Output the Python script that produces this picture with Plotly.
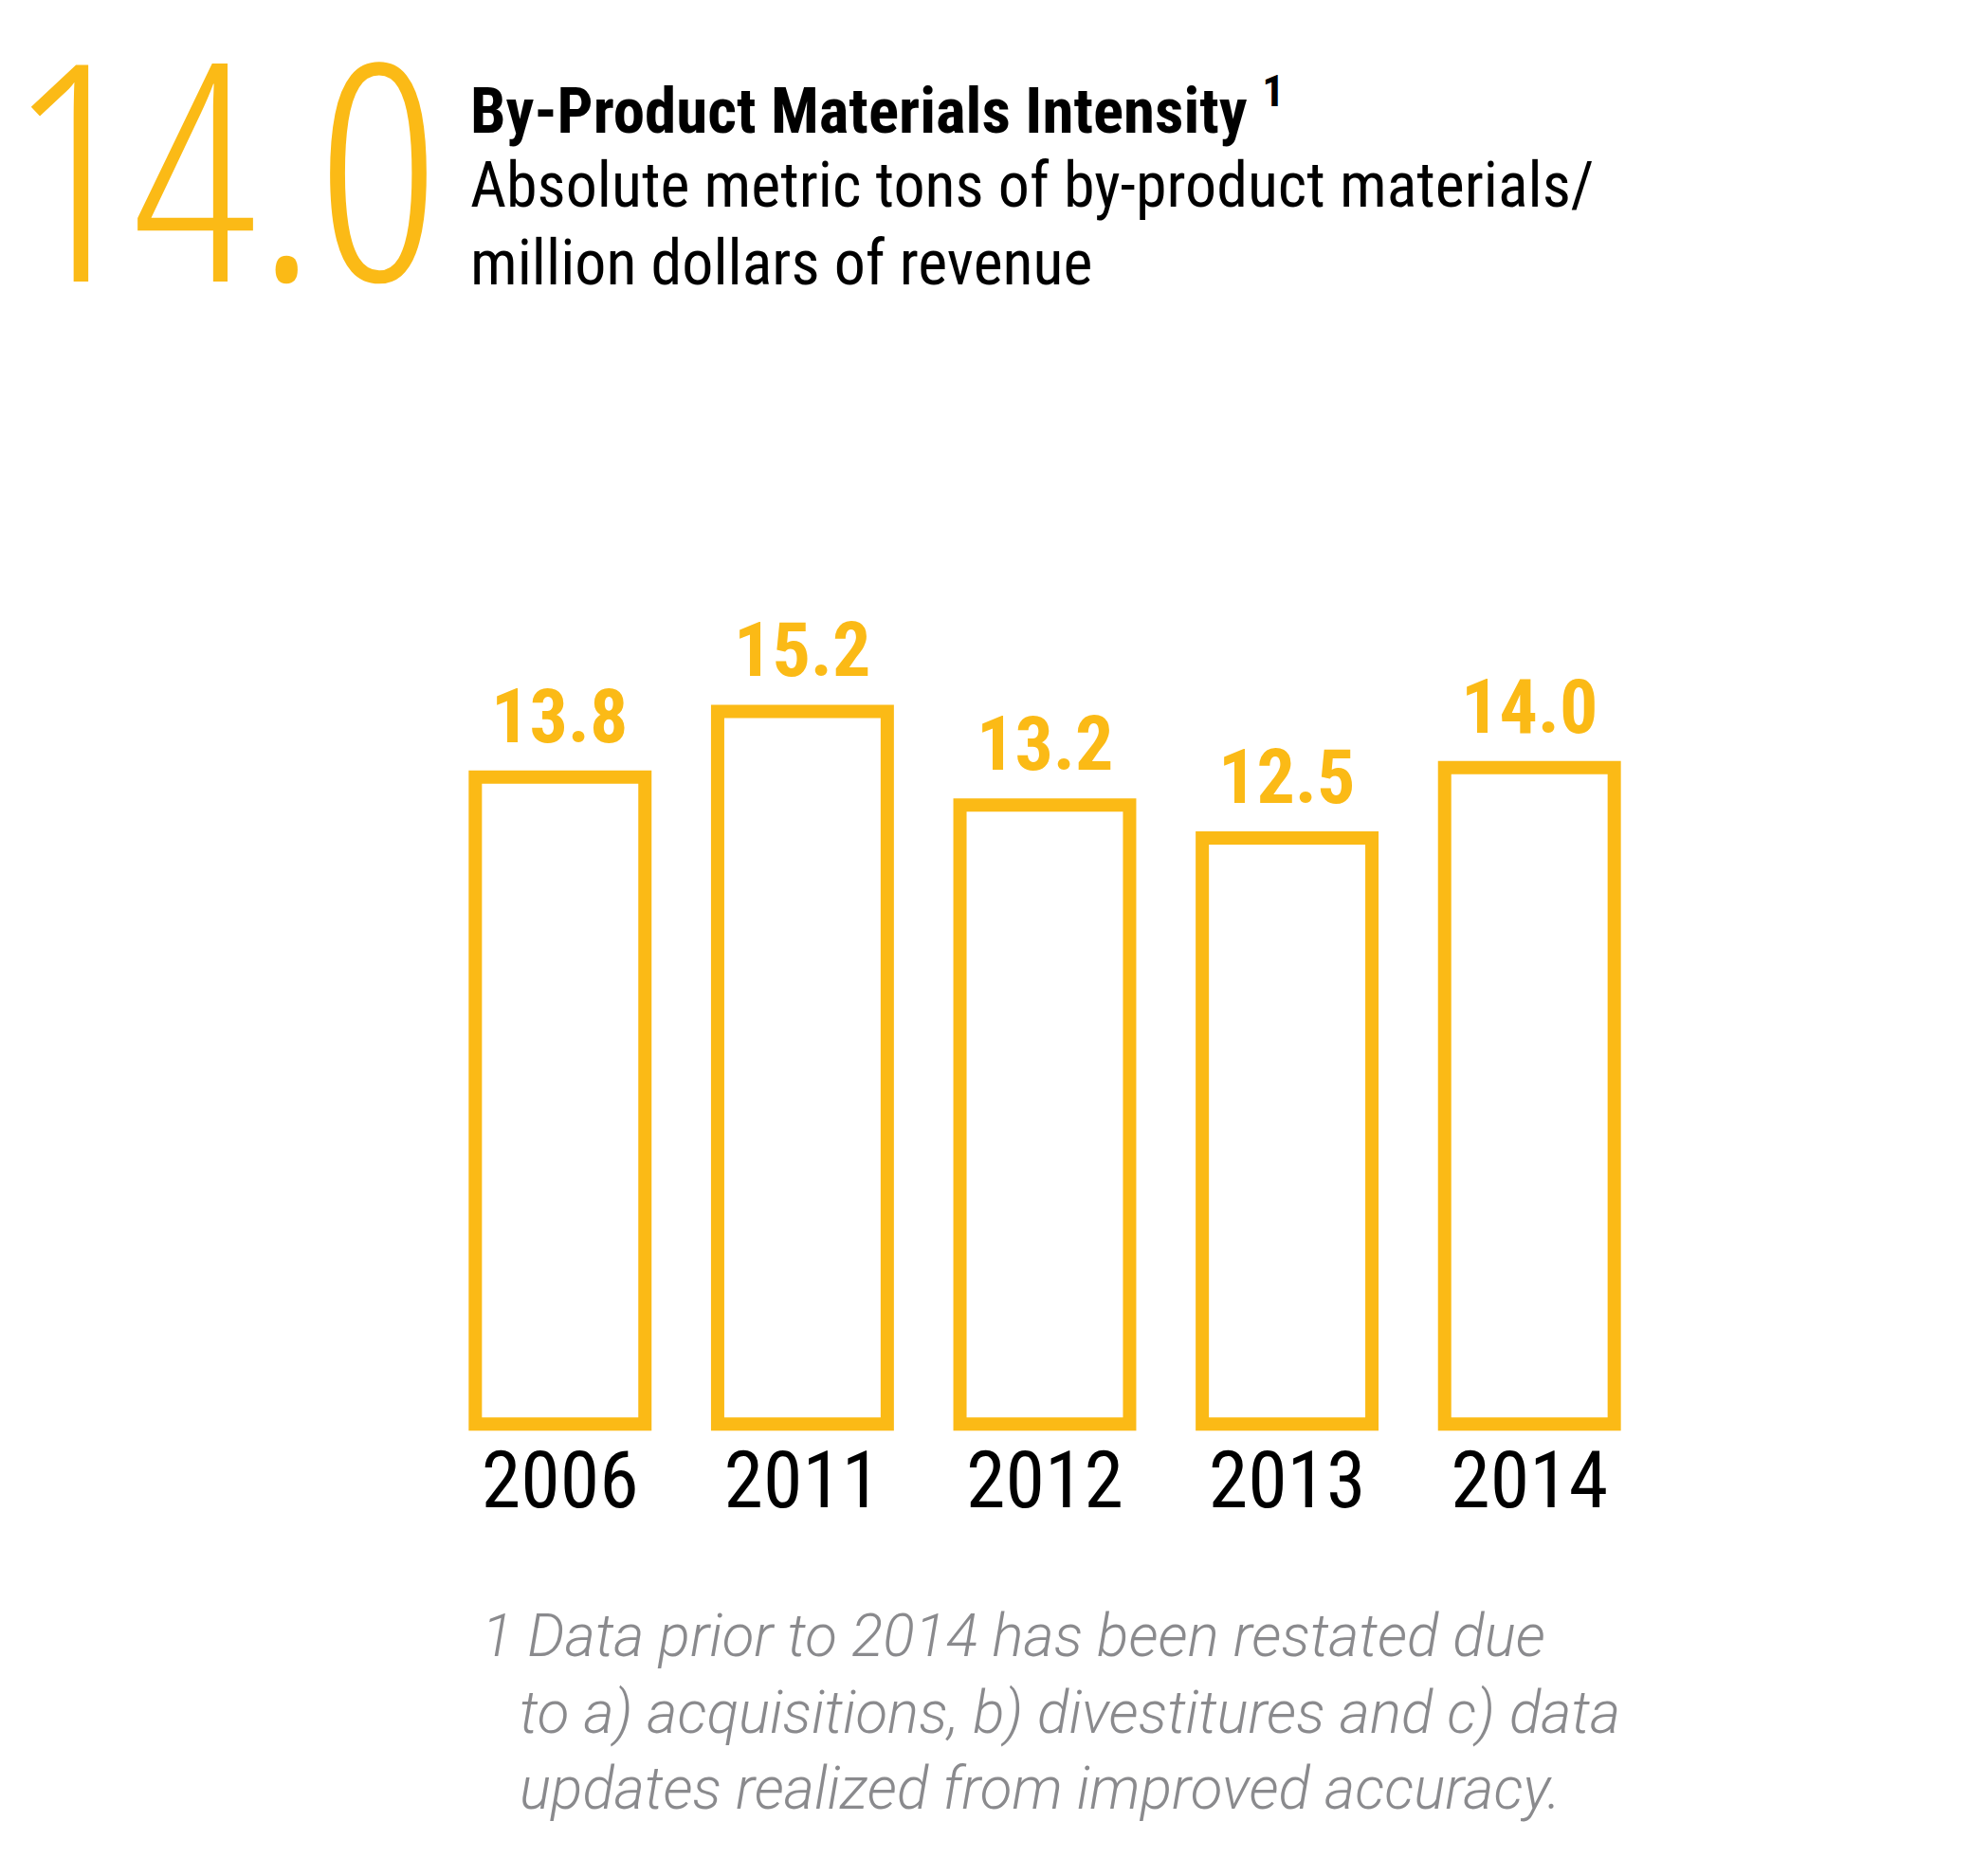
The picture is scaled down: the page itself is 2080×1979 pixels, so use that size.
import plotly.graph_objects as go

years = ["2006", "2011", "2012", "2013", "2014"]
intensity = [13.8, 15.2, 13.2, 12.5, 14.0]
value_labels = ["13.8", "15.2", "13.2", "12.5", "14.0"]
headline = "14.0"
title = "By-Product Materials Intensity"
title_note = "1"
subtitle_lines = ["Absolute metric tons of by-product materials/",
                  "million dollars of revenue"]
footnote_lines = ["1 Data prior to 2014 has been restated due",
                  "to a) acquisitions, b) divestitures and c) data",
                  "updates realized from improved accuracy."]

W, H = 2080, 1979
L, R, T, B = 455, 1733, 505, 1509
YEL = "#FBBA16"
GRAY = "#8A8A8D"
FONT = "Roboto Condensed, Roboto, sans-serif"
NOTE_FONT = "Roboto, sans-serif"
BIG_FONT = "Open Sans, Roboto Condensed, sans-serif"


def px(x):
    return (x - L) / (R - L)


def py(y):
    return (B - y) / (B - T)


fig = go.Figure(go.Bar(
    x=years, y=intensity,
    marker=dict(color="rgba(0,0,0,0)", line=dict(color=YEL, width=14)),
    hoverinfo="skip",
))

ann = []
for i, (v, lab) in enumerate(zip(intensity, value_labels)):
    ann.append(dict(x=i, y=v, xref="x", yref="y", text=lab, showarrow=False,
                    yanchor="bottom", xanchor="center", yshift=15,
                    font=dict(family=FONT, size=80, color=YEL, weight="bold")))


def text_at(x, baseline, txt, size, color="black", weight="normal", style="normal",
            family=FONT, desc=0.244):
    return dict(x=px(x), y=py(baseline + desc * size + 1), xref="paper", yref="paper",
                text=txt, showarrow=False, xanchor="left", yanchor="bottom",
                font=dict(family=family, size=size, color=color, weight=weight, style=style))


ann.append(text_at(0, 304, f"<span style='font-stretch:condensed'>{headline}</span>", 320,
                   color=YEL, weight=300, family=BIG_FONT, desc=0.25))
ann.append(text_at(486, 133, f"{title} <sup>{title_note}</sup>", 67, weight="bold"))
ann.append(text_at(486, 211, subtitle_lines[0], 66))
ann.append(text_at(486, 293, subtitle_lines[1], 66))
ann.append(text_at(498, 1740, footnote_lines[0], 62, color=GRAY, style="italic",
                   weight=300, family=NOTE_FONT))
ann.append(text_at(538, 1821, footnote_lines[1], 62, color=GRAY, style="italic",
                   weight=300, family=NOTE_FONT))
ann.append(text_at(538, 1901, footnote_lines[2], 62, color=GRAY, style="italic",
                   weight=300, family=NOTE_FONT))

fig.update_layout(
    width=W, height=H,
    margin=dict(l=L, r=W - R, t=T, b=H - B, pad=0),
    paper_bgcolor="white", plot_bgcolor="white",
    bargap=0.30,
    showlegend=False,
    annotations=ann,
    xaxis=dict(type="category", range=[-0.5, 4.5], showgrid=False, showline=False,
               zeroline=False, ticks="", ticklabelstandoff=-12,
               tickfont=dict(family=FONT, size=84, color="black"),
               fixedrange=True),
    yaxis=dict(range=[-0.3, 20], visible=False, fixedrange=True),
)

fig.write_html("out.html")
